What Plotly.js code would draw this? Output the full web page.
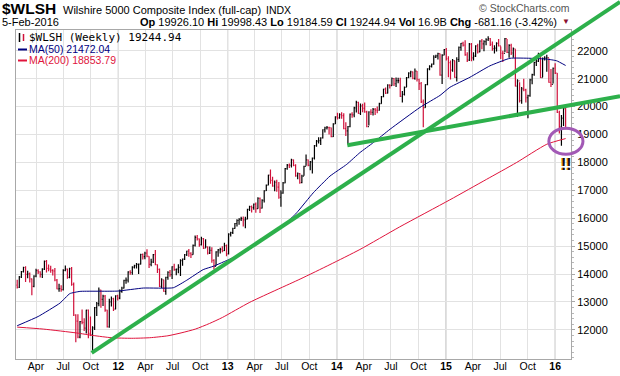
<!DOCTYPE html>
<html><head><meta charset="utf-8">
<script src="https://cdn.plot.ly/plotly-3.0.1.min.js"></script>
<style>html,body{margin:0;padding:0;background:#fff}#chart{width:620px;height:376px}</style>
</head><body><div id="chart"></div>
<script>
// ---------- data (weekly bars, Fridays from 2011-01-28 to 2016-02-05) ----------
const firstWeek = '2011-01-28';
const priorClose = 13603;
const closes = [
13529,13896,14090,14236,13991,14005,13826,13560,13926,14123,14079,13989,14176,14454,14206,14181,14133,14110,13782,13473,13478,13446,14134,14177,13885,14190,13634,12534,12318,11741,12298,12268,12061,12707,11875,11823,12075,12797,12940,13429,13096,13208,12707,12108,13003,13117,12746,13222,13142,
13379,13497,13772,13782,14081,14057,14252,14299,14344,14353,14702,14628,14747,14638,14347,14433,14694,14335,14170,13561,13797,13381,13880,14059,13977,14262,14157,14179,14240,14484,14536,14692,14820,14746,14699,15026,15318,15259,15055,15266,14929,14977,14754,14849,14490,14279,14797,14870,14890,14843,15017,14725,
15428,15486,15633,15812,15919,15968,15988,15944,15971,16319,16419,16379,16508,16341,16715,16362,16645,16984,17187,17542,17354,17155,17289,17113,16752,16898,17266,17776,17902,17898,18089,17895,17518,17600,17277,17512,17859,18091,17899,18021,18156,18596,18760,18779,18875,19169,19239,19250,19242,18925,19383,19629,
19596,19714,19674,19210,19127,19282,19728,19704,19952,20151,19755,20028,19932,19807,19283,19805,19789,19902,19875,19868,20107,20352,20625,20485,20767,20747,21005,20817,20929,20930,20369,20436,20685,21037,21196,21241,21007,21270,20979,20820,20167,19962,20785,21351,21437,21520,21770,21813,21895,21124,21846,22037,
21714,21573,21305,21646,21047,21686,22123,22264,22202,21852,21663,22240,21744,21807,22177,21957,22342,22243,22325,22394,22430,22233,22079,22093,22261,22171,21910,21908,22436,21941,22195,21919,22065,20734,20923,20211,20631,20598,20317,20392,20955,21144,21582,21626,21832,21039,21728,21737,21754,20869,20798,21373,21195,
19797,19273,19584,19926,19245];
const highs = [
13800,13930,14110,14260,14280,14120,14060,13840,13960,14190,14170,14100,14210,14490,14500,14340,14300,14170,14220,13820,13650,13600,14170,14310,14200,14230,14250,13700,12560,12560,12320,12730,12420,12720,12730,12480,12130,12820,13000,13520,13440,13260,13250,12720,13120,13200,13150,13240,13260,
13450,13550,13800,13880,14100,14140,14280,14330,14400,14380,14730,14740,14800,14890,14640,14550,14720,14860,14340,14200,13850,13800,13900,14100,14150,14280,14370,14200,14350,14530,14560,14720,14840,14900,14780,15060,15380,15400,15270,15340,15290,15250,14990,14990,14960,14530,14820,14900,14940,15000,15120,15060,
15460,15520,15660,15830,15960,16000,16050,16060,16050,16340,16450,16460,16530,16560,16750,16740,16680,17000,17210,17560,17750,17490,17350,17380,17300,17000,17300,17800,17940,17960,18130,18100,17930,17640,17620,17560,17880,18280,18100,18050,18180,18620,18800,18900,18900,19190,19280,19300,19280,19250,19400,19650,
19780,19760,19800,19760,19440,19300,19750,19800,19990,20210,20170,20110,20100,20150,19850,19830,19900,19950,19950,20000,20140,20380,20640,20680,20800,20800,21040,21020,21040,21030,21030,20560,20720,21060,21230,21280,21260,21360,21270,21000,20880,20250,20800,21370,21480,21540,21840,21860,21930,21900,21870,22060,
22100,21800,21650,21700,21650,21770,22150,22280,22320,22380,21950,22280,22280,21950,22200,22250,22380,22420,22380,22450,22520,22460,22330,22200,22300,22420,22150,22000,22460,22420,22230,22250,22120,22050,20980,20870,20700,21000,20640,20420,21000,21180,21600,21750,21930,21850,21760,21800,21860,21720,21350,21400,21550,
21200,19850,19700,19950,19998];
const lows = [
13480,13500,13860,14060,13720,13850,13700,13240,13530,13890,14000,13880,13860,14150,14060,14100,14050,13950,13740,13460,13370,13370,13410,14100,13830,13850,13580,12500,11560,11700,11700,12200,11960,11870,11700,11780,11180,12000,12500,12850,12790,12860,12650,12090,12080,12840,12680,12740,13050,
13100,13330,13480,13650,13700,13980,13980,14200,14200,14000,14340,14520,14530,14600,14220,14280,14400,14320,14040,13540,13500,13370,13260,13800,13900,13820,14120,13960,14030,13930,14300,14500,14650,14620,14580,14690,14990,15200,14980,15020,14900,14940,14700,14720,14410,14160,14300,14620,14740,14780,14830,14640,
14700,15350,15440,15620,15700,15770,15900,15700,15640,15960,16260,16210,16300,16200,16340,16190,16350,16560,16980,17180,17240,17130,16970,16950,16700,16410,16880,17250,17740,17800,17820,17860,17490,17400,17240,17250,17520,17880,17860,17720,17600,18100,18560,18680,18620,18860,19070,19180,19000,18900,18910,19380,
19540,19560,19560,19190,18950,18640,19260,19600,19620,19790,19740,19700,19800,19780,19260,19320,19700,19680,19700,19760,19850,20100,20330,20450,20470,20650,20750,20740,20700,20840,20340,20150,20400,20700,21020,21050,20980,20960,20900,20590,20130,19260,19960,20760,21300,21400,21500,21740,21690,21100,20810,21840,
21650,21050,20970,21250,21030,20900,21600,22000,22150,21820,21600,21630,21620,21650,21780,21900,21950,22050,21980,22200,22350,22170,22000,21900,21970,22150,21700,21600,21950,21920,21750,21850,21750,20720,19640,20150,20100,20550,20150,19580,20350,20800,21100,21450,21600,21020,21050,21650,21250,20850,20700,20830,21170,
19770,19040,18600,19300,19185];

const ma50Dates = ['2011-01-28','2011-04-08','2011-06-20','2011-07-23','2011-08-26','2011-12-28','2012-03-25','2012-07-03','2012-08-17','2012-10-11','2012-11-14','2013-01-09','2013-03-05','2013-04-30','2013-07-17','2013-08-20','2013-10-14','2013-12-09','2014-02-03','2014-03-19','2014-05-03','2014-06-28','2014-10-06','2014-12-12','2015-01-14','2015-03-22','2015-05-28','2015-08-03','2015-10-09','2015-12-04','2016-01-06','2016-02-05'];
const ma50Values = [12150,12480,12960,13300,13380,13390,13500,13510,13780,14160,14280,14540,14820,15240,15840,16200,16910,17510,17930,18350,18710,19190,19970,20400,20690,21050,21460,21730,21730,21700,21640,21472];
const ma200Dates = ['2011-01-28','2011-04-25','2011-08-15','2011-10-09','2011-12-10','2012-02-15','2012-04-15','2012-06-15','2012-08-01','2012-09-15','2012-11-01','2012-12-15','2013-03-16','2013-08-31','2013-12-09','2014-03-19','2014-07-30','2015-01-14','2015-05-16','2015-08-24','2015-12-04','2016-02-05'];
const ma200Values = [12100,12030,11890,11800,11720,11700,11720,11790,11900,12030,12230,12450,12990,13820,14340,14880,15690,16660,17390,17990,18650,18854];

const trend1Dates = ['2011-10-04','2016-08-05'], trend1Values = [11180, 23750];
const trend2Dates = ['2014-02-05','2016-08-05'], trend2Values = [18613, 20373];
const circleDates = ['2015-12-11','2016-04-03'], circleValues = [18290, 19224];

const yTicks = [12000,13000,14000,15000,16000,17000,18000,19000,20000,21000,22000];
const xTickDates = ['2011-04-01','2011-07-01','2011-10-01','2012-01-01','2012-04-01','2012-07-01','2012-10-01','2013-01-01','2013-04-01','2013-07-01','2013-10-01','2014-01-01','2014-04-01','2014-07-01','2014-10-01','2015-01-01','2015-04-01','2015-07-01','2015-10-01','2016-01-01'];
const xTickLabels = ['Apr','Jul','Oct','12','Apr','Jul','Oct','13','Apr','Jul','Oct','14','Apr','Jul','Oct','15','Apr','Jul','Oct','16'];

const xRange = ['2011-01-24','2016-02-23'];
const yRange = [10958, 22743];

// ---------- build ----------
const W = 620, H = 376, M = {l:16, r:49, t:30, b:17};
const PW = W - M.l - M.r, PH = H - M.t - M.b;
const pxX = p => (p - M.l) / PW;
const pxY = p => 1 - (p - M.t) / PH;
const t0 = Date.parse(xRange[0]), t1 = Date.parse(xRange[1]);
const dX = d => (Date.parse(d) - t0) / (t1 - t0);
const dY = v => (v - yRange[0]) / (yRange[1] - yRange[0]);

const weeks = closes.map((_, i) => {
  const d = new Date(Date.parse(firstWeek + 'T00:00:00Z'));
  d.setUTCDate(d.getUTCDate() + 7 * i);
  return d.toISOString().slice(0, 10);
});
const opens = closes.map((c, i) => i === 0 ? priorClose : closes[i - 1]);

const RED = '#d0103a', NAVY = '#00007f', CRIM = '#e0143c', GREEN = '#2db04b';
const ARIAL = 'Arial, Liberation Sans, sans-serif';

const traces = [
  {type:'scatter', mode:'lines', x: ma200Dates, y: ma200Values, line:{color:CRIM, width:1, shape:'spline', smoothing:0.6}, hoverinfo:'skip'},
  {type:'scatter', mode:'lines', x: ma50Dates, y: ma50Values, line:{color:NAVY, width:1, shape:'spline', smoothing:0.4}, hoverinfo:'skip'},
  {type:'ohlc', x: weeks, open: opens, high: highs, low: lows, close: closes,
   increasing:{line:{color:'#000', width:1.2}}, decreasing:{line:{color:RED, width:1.2}},
   tickwidth: 0.4, hoverinfo:'skip'}
];

function txt(text, x, y, size, color, family, anchor) {
  return {text, xref:'paper', yref:'paper', x: pxX(x), y: pxY(y), xanchor: anchor || 'left', yanchor:'middle',
    showarrow:false, borderpad:0, borderwidth:0, font:{size, color: color || '#000', family: family || ARIAL}};
}

const annotations = [
  txt('<b>$WLSH</b>', 2, 8.5, 15.5),
  txt('Wilshire 5000 Composite Index (full-cap)', 63, 9.5, 11),
  txt('INDX', 266, 9.5, 10.5),
  txt('© StockCharts.com', 570, 8, 10.5, '#555', ARIAL, 'right'),
  txt('5-Feb-2016', 2, 22, 11),
  txt('<b>Op</b> 19926.10 <b>Hi</b> 19998.43 <b>Lo</b> 19184.59 <b>Cl</b> 19244.94 <b>Vol</b> 16.9B <b>Chg</b> -681.16 (-3.42%)', 557, 22, 11, '#000', ARIAL, 'right'),
  txt('▼', 566, 21.5, 8, '#8b1030', ARIAL, 'center'),
  txt('$WLSH (Weekly) 19244.94', 29, 37.5, 11, '#000', 'DejaVu Sans Mono, monospace'),
  txt('MA(50) 21472.04', 29, 49, 10.5, NAVY),
  txt('MA(200) 18853.79', 29, 60, 10.5, CRIM),
  txt('<b>!!</b>', 565, 164, 16, '#e08a00', ARIAL, 'center'),
  txt('<b>!!</b>', 566, 164, 16, '#111', ARIAL, 'center')
];

const shapes = [];
// year grid lines
xTickDates.forEach((d, i) => {
  if (/^\d\d$/.test(xTickLabels[i])) shapes.push({type:'line', xref:'x', yref:'paper', x0:d, x1:d, y0:0, y1:1, layer:'between', line:{color:'#b4b4b4', width:1}});
});
// legend icons
shapes.push({type:'line', xref:'paper', yref:'paper', x0:pxX(19.5), x1:pxX(19.5), y0:pxY(42), y1:pxY(33), line:{color:'#000', width:1.5}});
shapes.push({type:'line', xref:'paper', yref:'paper', x0:pxX(23.5), x1:pxX(23.5), y0:pxY(41), y1:pxY(34), line:{color:RED, width:1.5}});
shapes.push({type:'line', xref:'paper', yref:'paper', x0:pxX(18), x1:pxX(27), y0:pxY(49.5), y1:pxY(49.5), line:{color:NAVY, width:2}});
shapes.push({type:'line', xref:'paper', yref:'paper', x0:pxX(18), x1:pxX(27), y0:pxY(60.5), y1:pxY(60.5), line:{color:CRIM, width:2}});
// trend lines (from data anchors, drawn in paper space so they may run past the plot)
shapes.push({type:'line', xref:'paper', yref:'paper', x0:dX(trend1Dates[0]), y0:dY(trend1Values[0]), x1:dX(trend1Dates[1]), y1:dY(trend1Values[1]), line:{color:GREEN, width:4}});
shapes.push({type:'line', xref:'paper', yref:'paper', x0:dX(trend2Dates[0]), y0:dY(trend2Values[0]), x1:dX(trend2Dates[1]), y1:dY(trend2Values[1]), line:{color:GREEN, width:4}});
shapes.push({type:'circle', xref:'paper', yref:'paper', x0:dX(circleDates[0]), y0:dY(circleValues[0]), x1:dX(circleDates[1]), y1:dY(circleValues[1]), line:{color:'#a259b5', width:3}});

const layout = {
  width: W, height: H, margin: {l:M.l, r:M.r, t:M.t, b:M.b, pad:0},
  paper_bgcolor:'#fff', plot_bgcolor:'#fff', showlegend:false,
  font:{family: ARIAL, size: 11, color:'#000'},
  xaxis: {type:'date', range: xRange, tickmode:'array', tickvals: xTickDates,
    ticktext: xTickLabels.map(t => /^\d\d$/.test(t) ? '<b>' + t + '</b>' : t),
    showgrid:true, gridcolor:'#e2e2e2', gridwidth:1, zeroline:false,
    showline:true, mirror:true, linecolor:'#a8a8a8', linewidth:1,
    ticks:'', ticklabelstandoff:-3, tickfont:{size:10.5, family:ARIAL, color:'#000'},
    rangeslider:{visible:false}, fixedrange:true},
  yaxis: {side:'right', range: yRange, tickmode:'array', tickvals: yTicks, ticktext: yTicks.map(String),
    showgrid:true, gridcolor:'#e2e2e2', gridwidth:1, zeroline:false,
    showline:true, mirror:true, linecolor:'#a8a8a8', linewidth:1,
    ticks:'outside', ticklen:3, tickcolor:'#a8a8a8', tickfont:{size:11, family:ARIAL, color:'#000'},
    minor:{dtick:200, tick0:0, ticks:'outside', ticklen:2, tickcolor:'#b8b8b8', showgrid:false},
    fixedrange:true},
  annotations, shapes
};

Plotly.newPlot('chart', traces, layout, {displayModeBar:false, staticPlot:true});
</script>
</body></html>
